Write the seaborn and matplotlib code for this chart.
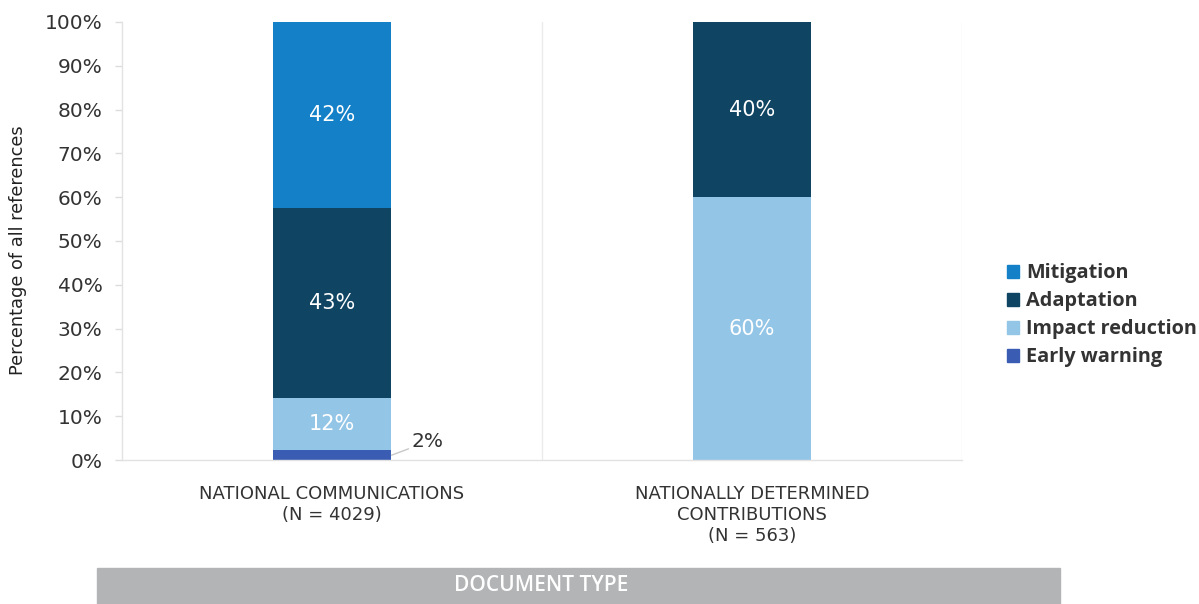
"""Stacked bar: share of references by theme, per document type."""

import numpy as np
import pandas as pd
import matplotlib

matplotlib.use("Agg")
import matplotlib.pyplot as plt  # noqa: E402
import matplotlib.patches as mpatches  # noqa: E402
import seaborn as sns  # noqa: E402

DOCS = ["NATIONAL COMMUNICATIONS\n(N = 4029)",
        "NATIONALLY DETERMINED\nCONTRIBUTIONS\n(N = 563)"]
# stacked bottom -> top
LAYERS = ["Early warning", "Impact reduction", "Adaptation", "Mitigation"]
EARLY = [2.2, 0.0]
IMPACT = [12.0, 60.0]
ADAPT = [43.4, 40.0]
MITIG = [42.4, 0.0]
COLORS = {"Mitigation": "#1380c8", "Adaptation": "#0f4462",
          "Impact reduction": "#93c5e7", "Early warning": "#3a5db3"}

sns.set_theme(style="white")
plt.rcParams["font.family"] = ["DejaVu Sans"]

vals = pd.DataFrame({"Early warning": EARLY, "Impact reduction": IMPACT,
                     "Adaptation": ADAPT, "Mitigation": MITIG}, index=DOCS)
tops = vals[LAYERS].cumsum(axis=1)

fig = plt.figure(figsize=(11.99, 6.04), dpi=100)
ax = fig.add_axes([0.1018, 0.2384, 0.7005, 0.7252])

# draw tallest cumulative layer first so lower layers sit on top
for name in LAYERS[::-1]:
    d = pd.DataFrame({"doc": DOCS, "top": tops[name].values})
    sns.barplot(data=d, x="doc", y="top", color=COLORS[name], saturation=1,
                width=0.283, linewidth=0, ax=ax)

for i, doc in enumerate(DOCS):
    bottom = 0.0
    for name in LAYERS:
        v = vals.loc[doc, name]
        if v >= 5:
            ax.text(i, bottom + v / 2, f"{v:.0f}%", ha="center", va="center",
                    color="white", fontsize=15)
        bottom += v

# small early-warning share gets a leader label
ax.annotate(f"{EARLY[0]:.0f}%", xy=(0.1417, EARLY[0] / 2), xytext=(0.19, 4.2),
            fontsize=14.5, color="#333333", va="center", ha="left",
            arrowprops=dict(arrowstyle="-", color="#c8c8c8", lw=1,
                            shrinkA=0, shrinkB=0))

ax.set_xlim(-0.5, 1.5)
ax.set_ylim(0, 100)
ax.set_yticks(np.arange(0, 101, 10))
ax.set_yticklabels([f"{t}%" for t in range(0, 101, 10)], fontsize=14.5,
                   color="#333333")
ax.tick_params(axis="y", length=5, width=1, color="#dddddd", pad=9, left=True)
ax.tick_params(axis="x", length=0, pad=18, labelsize=13, colors="#333333")
ax.set_xlabel("")
ax.set_ylabel("Percentage of all references", fontsize=12.8, color="#222222")
ax.yaxis.set_label_coords(-0.113, 0.48)
for s in ["top", "right"]:
    ax.spines[s].set_visible(False)
for s in ["left", "bottom"]:
    ax.spines[s].set_color("#e2e2e2")
    ax.spines[s].set_linewidth(1)
for xv in [0.5, 1.5]:
    ax.axvline(xv, color="#ebebeb", lw=1, zorder=0)

handles = [mpatches.Patch(color=COLORS[n], label=n) for n in LAYERS[::-1]]
fig.legend(handles=handles, loc="center left", bbox_to_anchor=(0.825, 0.478),
           frameon=False, handlelength=0.6, handleheight=0.6, handletextpad=0.35,
           labelspacing=0.4, prop={"family": "Open Sans", "weight": "bold",
                                   "size": 14.3}, labelcolor="#333333")

fig.patches.append(mpatches.Rectangle((0.081, 0.0), 0.803, 0.06,
                                      transform=fig.transFigure,
                                      color="#b3b4b6", zorder=0))
fig.text(0.451, 0.03, "DOCUMENT TYPE", ha="center", va="center", color="white",
         fontsize=15, family="Open Sans", weight="semibold")

fig.savefig("out.png", dpi=100)
